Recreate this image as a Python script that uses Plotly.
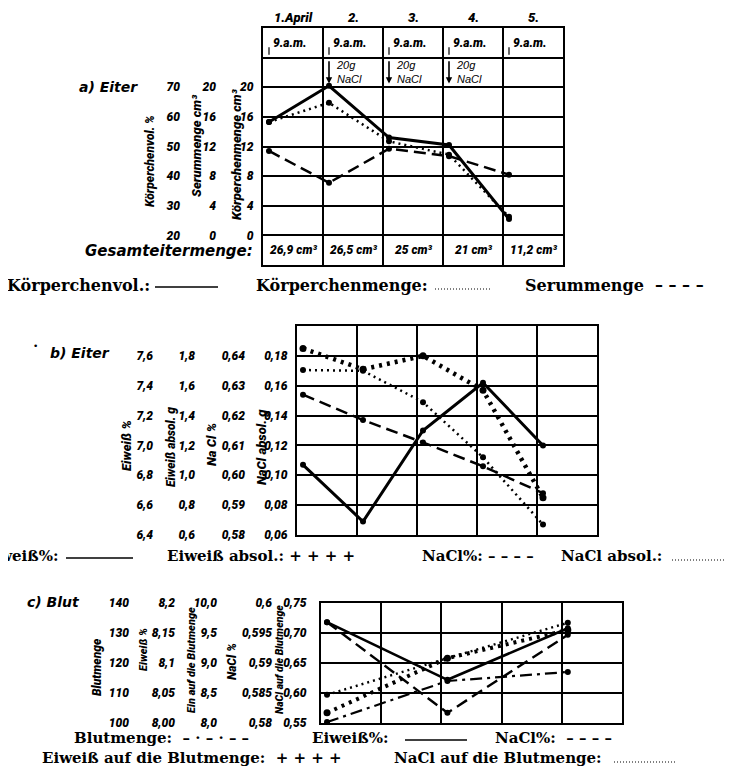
import plotly.graph_objects as go

W, H = 732, 784

# ---------------- data ----------------
days = [1, 2, 3, 4, 5]
date_labels = ["1.April", "2.", "3.", "4.", "5."]
time_labels = ["9.a.m.", "9.a.m.", "9.a.m.", "9.a.m.", "9.a.m."]
nacl_doses = ["", "20g<br>NaCl", "20g<br>NaCl", "20g<br>NaCl", ""]
total_pus = ["26,9 cm³", "26,5 cm³", "25 cm³", "21 cm³", "11,2 cm³"]

# a) Eiter
a_koerperchenvol_pct = [58.3, 70.5, 53.0, 50.5, 25.5]
a_koerperchenmenge = [15.3, 17.9, 12.7, 10.9, 2.5]
a_serummenge = [11.4, 7.1, 11.7, 10.7, 8.2]

a_ticks_pct = [20, 30, 40, 50, 60, 70]
a_ticks_cm3 = [0, 4, 8, 12, 16, 20]

# b) Eiter
b_eiweiss_pct = [6.87, 6.49, 7.10, 7.42, 7.00]
b_eiweiss_abs = [1.85, 1.71, 1.80, 1.57, 0.85]
b_nacl_pct = [0.627, 0.6185, 0.611, 0.603, 0.594]
b_nacl_abs = [0.1705, 0.1700, 0.149, 0.112, 0.067]

b_ticks_eiw_pct = [6.4, 6.6, 6.8, 7.0, 7.2, 7.4, 7.6]
b_ticks_eiw_abs = [0.6, 0.8, 1.0, 1.2, 1.4, 1.6, 1.8]
b_ticks_nacl_pct = [0.58, 0.59, 0.60, 0.61, 0.62, 0.63, 0.64]
b_ticks_nacl_abs = [0.06, 0.08, 0.10, 0.12, 0.14, 0.16, 0.18]

# c) Blut
c_days = [1, 3, 5]
c_blutmenge = [100.3, 114.0, 117.0]
c_eiweiss_pct = [8.168, 8.072, 8.158]
c_eiw_blut = [8.17, 9.08, 9.55]
c_nacl_pct = [0.5968, 0.5817, 0.5947]
c_nacl_blut = [0.597, 0.658, 0.717]

c_ticks_blut = [100, 110, 120, 130, 140]
c_ticks_eiw_pct = [8.00, 8.05, 8.1, 8.15, 8.2]
c_ticks_eiw_blut = [8.0, 8.5, 9.0, 9.5, 10.0]
c_ticks_nacl_pct = [0.58, 0.585, 0.59, 0.595, 0.6]
c_ticks_nacl_blut = [0.55, 0.6, 0.65, 0.7, 0.75]

# ---------------- helpers ----------------
PAGE = 8  # default page margin around the figure in the browser

def px(x):
    return (x - PAGE) / W

def py(y):
    return 1 - (y - PAGE) / H

def fmt(v, nd):
    return (f"{v:.{nd}f}").replace(".", ",")

OFF = 0.1  # 9 a.m. position inside each day column
BLACK = "black"
NUMFONT = dict(family="Roboto, Liberation Sans", size=12, weight=900, style="italic", color=BLACK)
TITLEFONT = dict(family="Roboto, Liberation Sans", size=12, weight=900, style="italic", color=BLACK)
HEADFONT = dict(family="DejaVu Sans", size=14, weight="bold", style="italic", color=BLACK)
LEGFONT_A = dict(family="DejaVu Serif", size=16, weight="bold", color=BLACK)
LEGFONT = dict(family="DejaVu Serif", size=15, weight="bold", color=BLACK)

fig = go.Figure()

def xax(x0, x1, anchor):
    return dict(domain=[px(x0), px(x1)], range=[1, 6], anchor=anchor,
                tickvals=[1, 2, 3, 4, 5, 6], showticklabels=False, ticks="",
                showgrid=True, gridcolor=BLACK, gridwidth=1.6,
                showline=True, linecolor=BLACK, linewidth=2.2, mirror=True,
                zeroline=False, fixedrange=True, automargin=False)

def main_yax(y0, y1, rng, grid, labels, anchor, lab_nd, standoff):
    text = [fmt(v, lab_nd) if any(abs(v - l) < 1e-9 for l in labels) else "" for v in grid]
    return dict(domain=[py(y1), py(y0)], range=rng, anchor=anchor,
                tickvals=grid, ticktext=text, ticks="", tickfont=NUMFONT,
                showgrid=True, gridcolor=BLACK, gridwidth=1.6,
                showline=True, linecolor=BLACK, linewidth=2.2, mirror=True,
                zeroline=False, fixedrange=True, ticklabelstandoff=standoff, automargin=False)

def over_yax(over, pos, rng, labels, texts):
    return dict(overlaying=over, anchor="free", position=px(pos), side="left",
                range=rng, tickvals=labels, ticktext=texts, ticks="",
                tickfont=NUMFONT, showgrid=False, showline=False,
                zeroline=False, fixedrange=True, ticklabelstandoff=0, automargin=False)

def pann(x, y, text, font, xanchor="center", yanchor="middle", angle=0):
    return dict(x=px(x), y=py(y), xref="paper", yref="paper", text=text, showarrow=False,
                xanchor=xanchor, yanchor=yanchor, textangle=angle, font=font)

def pline(x0, x1, y, width=1.5, dash="solid"):
    return dict(type="line", xref="paper", yref="paper", x0=px(x0), x1=px(x1), y0=py(y), y1=py(y),
                line=dict(color=BLACK, width=width, dash=dash))

# ---------------- panel a ----------------
a_grid = [-4, 0, 4, 8, 12, 16, 20, 24, 28]
layout = {}
layout["xaxis"] = xax(263, 563, "y")
layout["yaxis"] = main_yax(28, 265, [-4, 28], a_grid, a_ticks_cm3, "x", 0, 5)
layout["yaxis2"] = over_yax("y", 216, [-4, 28], a_ticks_cm3, [str(v) for v in a_ticks_cm3])
# Körperchenvol % axis: 0 cm3 <-> 20 %, 20 cm3 <-> 70 %
layout["yaxis3"] = over_yax("y", 180, [10, 90], a_ticks_pct, [str(v) for v in a_ticks_pct])

xa = [d + OFF for d in days]
fig.add_trace(go.Scatter(x=xa, y=a_koerperchenvol_pct, xaxis="x", yaxis="y3", mode="lines+markers",
                         line=dict(color=BLACK, width=3), marker=dict(size=6, color=BLACK)))
fig.add_trace(go.Scatter(x=xa, y=a_koerperchenmenge, xaxis="x", yaxis="y", mode="lines+markers",
                         line=dict(color=BLACK, width=2.5, dash="2px,4px"), marker=dict(size=6, color=BLACK)))
fig.add_trace(go.Scatter(x=xa, y=a_serummenge, xaxis="x", yaxis="y2", mode="lines+markers",
                         line=dict(color=BLACK, width=2.5, dash="12px,6px"), marker=dict(size=6, color=BLACK)))

ann = []
shapes = []
for d, lab, t, dose, tot in zip(days, date_labels, time_labels, nacl_doses, total_pus):
    ann.append(dict(x=d + 0.5, y=28, xref="x", yref="y", text=lab, showarrow=False,
                    xanchor="center", yanchor="bottom", yshift=1, font=dict(NUMFONT, size=13)))
    ann.append(dict(x=d + OFF + 0.03, y=26, xref="x", yref="y", text=t, showarrow=False,
                    xanchor="left", yanchor="middle", font=dict(NUMFONT, size=12)))
    shapes.append(dict(type="line", xref="x", yref="y", x0=d + OFF, x1=d + OFF, y0=24.4, y1=25.4,
                       line=dict(color=BLACK, width=1.2)))
    ann.append(dict(x=d + 0.5, y=-2, xref="x", yref="y", text=tot, showarrow=False,
                    xanchor="center", yanchor="middle", font=dict(NUMFONT, size=12)))
    if dose:
        ann.append(dict(x=d + OFF, y=20.5, xref="x", yref="y", ax=d + OFF, ay=23.7,
                        axref="x", ayref="y", text="", showarrow=True, arrowhead=2,
                        arrowsize=0.8, arrowwidth=1.6, arrowcolor=BLACK))
        ann.append(dict(x=d + OFF + 0.08, y=22, xref="x", yref="y", text=dose, showarrow=False,
                        xanchor="left", yanchor="middle", align="left",
                        font=dict(family="Liberation Sans", size=11, style="italic", color=BLACK)))

ann.append(pann(77, 87, "a) Eiter", HEADFONT, xanchor="left"))
ann.append(pann(255, 251, "Gesamteitermenge:", dict(HEADFONT, size=15), xanchor="right"))
for xx, yy, txt, sz in [(150, 161, "Körperchenvol. %", 12), (197, 146, "Serummenge cm³", 13),
                        (236, 155, "Körperchenmenge cm³", 13)]:
    ann.append(pann(xx, yy, txt, dict(TITLEFONT, size=sz), angle=-90))

# legend a
ann.append(pann(5, 285, "Körperchenvol.:", LEGFONT_A, xanchor="left"))
shapes.append(pline(155, 218, 287, 1.5))
ann.append(pann(254, 285, "Körperchenmenge:", LEGFONT_A, xanchor="left"))
shapes.append(pline(435, 490, 289, 1.2, "1px,2px"))
ann.append(pann(523, 285, "Serummenge  – – – –", LEGFONT_A, xanchor="left"))

# ---------------- panel b ----------------
b_grid = [0.06, 0.08, 0.10, 0.12, 0.14, 0.16, 0.18, 0.20]
layout["xaxis2"] = xax(297, 597, "y4")
layout["yaxis4"] = main_yax(326, 535, [0.06, 0.20], b_grid, b_ticks_nacl_abs, "x2", 2, 5)
layout["yaxis5"] = over_yax("y4", 245, [0.58, 0.65], b_ticks_nacl_pct, [fmt(v, 2) for v in b_ticks_nacl_pct])
layout["yaxis6"] = over_yax("y4", 195, [0.6, 2.0], b_ticks_eiw_abs, [fmt(v, 1) for v in b_ticks_eiw_abs])
layout["yaxis7"] = over_yax("y4", 153, [6.4, 7.8], b_ticks_eiw_pct, [fmt(v, 1) for v in b_ticks_eiw_pct])

fig.add_trace(go.Scatter(x=xa, y=b_eiweiss_pct, xaxis="x2", yaxis="y7", mode="lines+markers",
                         line=dict(color=BLACK, width=3), marker=dict(size=6, color=BLACK)))
fig.add_trace(go.Scatter(x=xa, y=b_eiweiss_abs, xaxis="x2", yaxis="y6", mode="lines+markers",
                         line=dict(color=BLACK, width=4.5, dash="3px,5px"),
                         marker=dict(size=7, color=BLACK)))
fig.add_trace(go.Scatter(x=xa, y=b_nacl_pct, xaxis="x2", yaxis="y5", mode="lines+markers",
                         line=dict(color=BLACK, width=2.5, dash="12px,6px"), marker=dict(size=6, color=BLACK)))
fig.add_trace(go.Scatter(x=xa, y=b_nacl_abs, xaxis="x2", yaxis="y4", mode="lines+markers",
                         line=dict(color=BLACK, width=2.5, dash="2px,4px"), marker=dict(size=6, color=BLACK)))

ann.append(pann(35, 346, "•", dict(family="DejaVu Sans", size=9, color=BLACK)))
ann.append(pann(48, 353, "b) Eiter", HEADFONT, xanchor="left"))
for xx, yy, txt, sz in [(126, 446, "Eiweiß %", 13), (171, 447, "Eiweiß absol. g", 12),
                        (211, 444, "Na Cl %", 13), (261, 447, "NaCl absol. g", 13)]:
    ann.append(pann(xx, yy, txt, dict(TITLEFONT, size=sz), angle=-90))

# legend b
ann.append(pann(60, 556, "Eiweiß%:", LEGFONT, xanchor="right"))
shapes.append(pline(66, 133, 558, 1.5))
ann.append(pann(165, 556, "Eiweiß absol.: + + + +", LEGFONT, xanchor="left"))
ann.append(pann(420, 556, "NaCl%: – – – –", LEGFONT, xanchor="left"))
ann.append(pann(559, 556, "NaCl absol.:", LEGFONT, xanchor="left"))
shapes.append(pline(672, 730, 560, 1.2, "1px,2px"))

# ---------------- panel c ----------------
c_grid = [0.55, 0.6, 0.65, 0.7, 0.75]
layout["xaxis3"] = xax(321, 622, "y8")
layout["yaxis8"] = main_yax(603, 723, [0.55, 0.75], c_grid, c_ticks_nacl_blut, "x3", 2, 10)
layout["yaxis9"] = over_yax("y8", 272, [0.58, 0.60], c_ticks_nacl_pct,
                            ["0,58", "0,585", "0,59", "0,595", "0,6"])
layout["yaxis10"] = over_yax("y8", 217, [8.0, 10.0], c_ticks_eiw_blut, [fmt(v, 1) for v in c_ticks_eiw_blut])
layout["yaxis11"] = over_yax("y8", 175, [8.0, 8.2], c_ticks_eiw_pct, ["8,00", "8,05", "8,1", "8,15", "8,2"])
layout["yaxis12"] = over_yax("y8", 129, [100, 140], c_ticks_blut, [str(v) for v in c_ticks_blut])

xc = [d + OFF for d in c_days]
fig.add_trace(go.Scatter(x=xc, y=c_blutmenge, xaxis="x3", yaxis="y12", mode="lines+markers",
                         line=dict(color=BLACK, width=2.2, dash="12px,5px,3px,5px"),
                         marker=dict(size=6, color=BLACK)))
fig.add_trace(go.Scatter(x=xc, y=c_eiweiss_pct, xaxis="x3", yaxis="y11", mode="lines+markers",
                         line=dict(color=BLACK, width=2.6), marker=dict(size=6, color=BLACK)))
fig.add_trace(go.Scatter(x=xc, y=c_nacl_pct, xaxis="x3", yaxis="y9", mode="lines+markers",
                         line=dict(color=BLACK, width=2.4, dash="12px,6px"), marker=dict(size=6, color=BLACK)))
fig.add_trace(go.Scatter(x=xc, y=c_eiw_blut, xaxis="x3", yaxis="y10", mode="lines+markers",
                         line=dict(color=BLACK, width=4, dash="3px,5px"), marker=dict(size=7, color=BLACK)))
fig.add_trace(go.Scatter(x=xc, y=c_nacl_blut, xaxis="x3", yaxis="y8", mode="lines+markers",
                         line=dict(color=BLACK, width=2.4, dash="2px,4px"), marker=dict(size=6, color=BLACK)))

ann.append(pann(25, 602, "c) Blut", HEADFONT, xanchor="left"))
for xx, yy, txt, sz in [(97, 667, "Blutmenge", 12), (143, 650, "Eiweiß %", 11),
                        (191, 660, "Ein auf die Blutmenge", 11), (232, 662, "NaCl %", 12),
                        (279, 660, "NaCl auf die Blutmenge", 10.5)]:
    ann.append(pann(xx, yy, txt, dict(TITLEFONT, size=sz), angle=-90))

# legend c
ann.append(pann(72, 738, "Blutmenge:  – · – · – –", LEGFONT, xanchor="left"))
ann.append(pann(310, 738, "Eiweiß%:", LEGFONT, xanchor="left"))
shapes.append(pline(405, 467, 740, 1.5))
ann.append(pann(493, 738, "NaCl%:  – – – –", LEGFONT, xanchor="left"))
ann.append(pann(40, 758, "Eiweiß auf die Blutmenge:  + + + +", LEGFONT, xanchor="left"))
ann.append(pann(392, 758, "NaCl auf die Blutmenge:", LEGFONT, xanchor="left"))
shapes.append(pline(614, 675, 762, 1.2, "1px,2px"))

fig.update_layout(**layout)
fig.update_layout(template="none", width=W, height=H, margin=dict(l=0, r=0, t=0, b=0, pad=0),
                  paper_bgcolor="white", plot_bgcolor="white", showlegend=False,
                  annotations=ann, shapes=shapes)

fig.write_html("out.html")
